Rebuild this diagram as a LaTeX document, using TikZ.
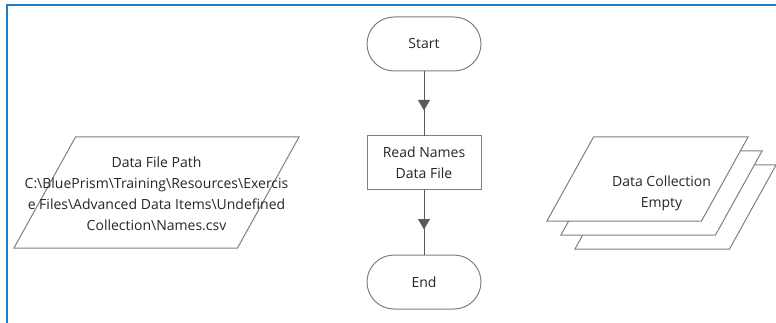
\documentclass[tikz,border=0pt]{standalone}
\usepackage{fontspec}
\setmainfont{Open Sans}
\usetikzlibrary{shapes.geometric,shapes.misc,positioning}
\definecolor{frameblue}{RGB}{30,125,200}
\definecolor{shapegray}{RGB}{128,128,128}
\definecolor{linegray}{RGB}{90,90,90}
\definecolor{txtgray}{RGB}{38,38,38}
\newcommand{\bsl}{\textbackslash}
\tikzset{
  flow/.style={draw=shapegray,line width=1pt,fill=white,text=txtgray,align=center,
    font=\fontsize{14}{21}\selectfont,inner sep=0pt,outer sep=0pt},
  terminal/.style={flow,rounded rectangle,minimum width=114pt,minimum height=54pt},
  process/.style={flow,rectangle,minimum width=114pt,minimum height=54pt},
  dataio/.style args={#1,#2}{flow,trapezium,trapezium left angle=61,
    trapezium right angle=119,inner xsep=#1pt,inner ysep=#2pt},
  plaintext/.style={text=txtgray,align=center,
    font=\fontsize{14}{21}\selectfont,inner sep=0pt},
  triangle/.style={fill=linegray,regular polygon,regular polygon sides=3,
    minimum size=14pt,inner sep=0pt,rotate=180},
  conn/.style={draw=linegray,line width=1pt},
  node distance=65pt
}
\begin{document}
\begin{tikzpicture}[x=1pt,y=-1pt]
  \useasboundingbox (0,0) rectangle (776,323);
  \clip (0,0) rectangle (776,323);
  \draw[frameblue,line width=2pt] (7,340) -- (7,5) -- (790,5);

  % main column
  \node[terminal] (start) at (424,44) {Start};
  \node[process,below=of start] (read) {Read Names\\Data File};
  \node[terminal,below=of read] (end) {End};
  \path[conn] (start) edge node[triangle] {} (read)
              (read) edge node[triangle] {} (end);

  % input path
  \node[dataio={81,55.5}] (pathio) at (156.5,192.5) {};
  \node[plaintext] (pathtext) at (156.5,194) {Data File Path\\
    C:\bsl BluePrism\bsl Training\bsl Resources\bsl Exercis\\
    e Files\bsl Advanced Data Items\bsl Undefined\\
    Collection\bsl Names.csv};

  % collection stack
  \node[dataio={54,42}] (coll3) at (675.5,207) {};
  \node[dataio={54,42}] (coll2) at (661.5,193) {};
  \node[dataio={54,42}] (coll1) at (647.5,179) {};
  \node[plaintext] (colltext) at (coll2.center) {Data Collection\\Empty};
\end{tikzpicture}
\end{document}
